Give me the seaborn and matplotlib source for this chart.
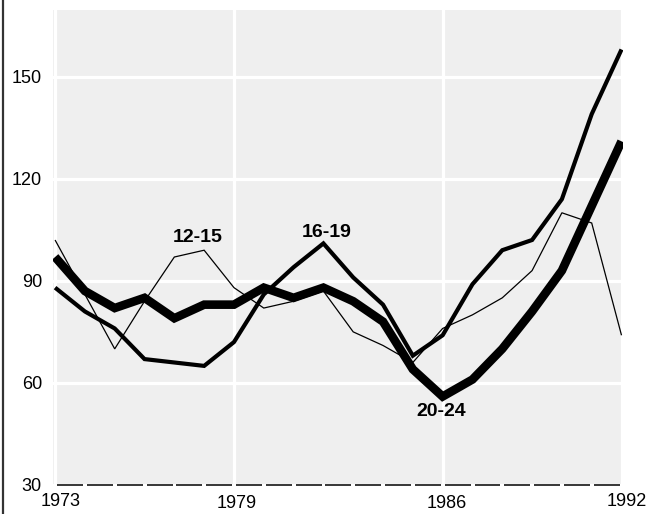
import matplotlib
matplotlib.use("Agg")
import matplotlib.pyplot as plt
import matplotlib.transforms as mtransforms
from matplotlib.lines import Line2D
import pandas as pd
import seaborn as sns

years = list(range(1973, 1993))
age_12_15 = [102, 86, 70, 84, 97, 99, 88, 82, 84, 87, 75, 71, 66, 76, 80, 85, 93, 110, 107, 74]
age_16_19 = [88, 81, 76, 67, 66, 65, 72, 86, 94, 101, 91, 83, 68, 74, 89, 99, 102, 114, 139, 158]
age_20_24 = [97, 87, 82, 85, 79, 83, 83, 88, 85, 88, 84, 78, 64, 56, 61, 70, 81, 93, 112, 131]

groups = ["12-15", "16-19", "20-24"]
label_pos = {"12-15": (1977.78, 102.7), "16-19": (1982.1, 104.3), "20-24": (1985.95, 51.5)}
widths = {"12-15": 0.9, "16-19": 3.0, "20-24": 6.2}

x_ticks = [1973, 1979, 1986, 1992]
y_ticks = [30, 60, 90, 120, 150]

df = pd.DataFrame({
    "year": years * 3,
    "value": age_12_15 + age_16_19 + age_20_24,
    "group": [g for g in groups for _ in years],
})

sns.set_style("darkgrid", {"axes.facecolor": "#efefef", "grid.color": "white"})
plt.rcParams["font.family"] = ["Liberation Sans", "DejaVu Sans"]
plt.rcParams["grid.linewidth"] = 2.3
plt.rcParams["text.color"] = "black"

fig = plt.figure(figsize=(6.57, 5.14), dpi=100)
ax = fig.add_axes([53 / 657, 1 - 486 / 514, 570 / 657, 476 / 514])

for g in groups:
    sns.lineplot(data=df[df["group"] == g], x="year", y="value", ax=ax,
                 color="black", linewidth=widths[g], legend=False,
                 solid_joinstyle="miter", solid_capstyle="butt")
    lx, ly = label_pos[g]
    ax.text(lx, ly, g, ha="center", va="center", fontsize=14,
            fontweight="bold", color="black")

# dashed baseline at 30, one dash per year
ax.hlines([30] * (len(years) - 1), [y + 0.07 for y in years[:-1]],
          [y + 0.94 for y in years[:-1]], color="black", linewidth=1.1)

ax.set_xlim(1972.93, 1992.05)
ax.set_ylim(29.7, 169.6)
ax.set_xticks(x_ticks)
ax.set_yticks(y_ticks)
ax.set_xticklabels([str(t) for t in x_ticks])
ax.set_xlabel("")
ax.set_ylabel("")
ax.tick_params(axis="both", length=0, labelsize=13, colors="black")
ax.tick_params(axis="y", pad=8)
ax.tick_params(axis="x", pad=6)
for s in ax.spines.values():
    s.set_visible(False)

# nudge x tick labels like the original
shifts = [(6, 1), (3, -1), (4, -1), (5, 1)]
for lab, (dx, dy) in zip(ax.get_xticklabels(), shifts):
    lab.set_transform(lab.get_transform() +
                      mtransforms.ScaledTranslation(dx / 100, dy / 100, fig.dpi_scale_trans))

fig.add_artist(Line2D([2.5 / 657, 2.5 / 657], [0, 1], transform=fig.transFigure,
                      color="#333333", linewidth=1.6))

fig.savefig("out.png", dpi=100)
